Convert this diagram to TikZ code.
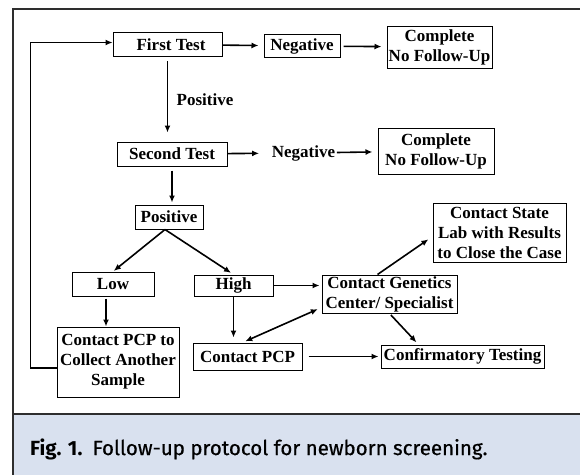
\documentclass[tikz,border=0pt]{standalone}
\usepackage{fontspec}
\setmainfont{Liberation Serif}
\newfontfamily\capfont{Fira Sans}
\newfontfamily\capmedfont{Fira Sans}[FakeBold=0.6]
\usepackage{xcolor}
\usetikzlibrary{calc, positioning, arrows.meta}

\definecolor{capblue}{HTML}{D9E1EF}
\definecolor{framegray}{HTML}{2E2E2E}

\begin{document}
\begin{tikzpicture}[x=1pt,y=-1pt,->,>={Latex[length=7pt,width=6pt]},
                    line width=1.6pt,
                    box node/.style={rectangle,draw,line width=1pt,inner sep=1pt,align=center,
                                     font=\fontsize{17}{20}\selectfont\bfseries},
                    text node/.style={inner sep=1pt,font=\fontsize{17}{20}\selectfont\bfseries},
                    gap/.style={shorten >=5pt}]

  \useasboundingbox (0,0) rectangle (580,474);
  \clip (0,0) rectangle (580,474);

  % frame and caption band
  \fill[capblue] (13,414) rectangle (590,484);
  \draw[-,framegray,line width=2.5pt] (13,490) -- (13,9) -- (590,9);
  \draw[-,framegray,line width=2pt] (13,414) -- (590,414);
  \node[anchor=west,font=\fontsize{20.5}{22}\selectfont] (cap) at (26,449)
    {{\capfont\bfseries Fig. 1.}\ \ {\capmedfont Follow-up protocol for newborn screening.}};

  % boxes
  \node[box node,minimum width=109pt,minimum height=24pt] (first) at (167.5,44.5) {\hspace*{7pt}First Test};
  \node[box node,minimum width=76pt,minimum height=23pt] (neg1) at (302,46) {Negative};
  \node[box node,minimum width=105pt,minimum height=42pt] (comp1) at (439.5,47) {Complete\\No Follow-Up};
  \node[box node,minimum width=110pt,minimum height=24pt] (second) at (172,154) {Second Test};
  \node[text node] (neg2) at (303.5,153) {Negative};
  \node[box node,minimum width=116pt,minimum height=46pt] (comp2) at (436,151) {Complete\\No Follow-Up};
  \node[text node] (poslabel) at (205,100) {Positive};
  \node[box node,minimum width=68pt,minimum height=24pt] (pos) at (169,217) {Positive};
  \node[box node,minimum width=82pt,minimum height=24pt] (low) at (113,284) {Low};
  \node[box node,minimum width=79pt,minimum height=21pt] (high) at (233.5,285.5) {High};
  \node[box node,minimum width=122pt,minimum height=70pt] (collect) at (118,362) {Contact PCP to\\Collect Another\\Sample};
  \node[box node,minimum width=109pt,minimum height=27pt] (pcp) at (247.5,356.5) {Contact PCP};
  \node[box node,minimum width=135pt,minimum height=38pt] (genetics) at (389.5,294) {Contact Genetics\\Center/ Specialist};
  \node[box node,minimum width=133pt,minimum height=59pt] (state) at (499.5,232.5) {Contact State\\Lab with Results\\to Close the Case};
  \node[box node,minimum width=163pt,minimum height=23pt] (confirm) at (462.5,356.5) {Confirmatory Testing};

  \path
    (first) edge[gap] (neg1)
    (neg1) edge[shorten <=3pt,gap] (comp1)
    (first.south) edge[shorten <=4pt,shorten >=9pt] (first.south |- second.north)
    (second) edge[shorten >=11pt] (neg2)
    (neg2) edge[gap] (comp2)
    (second.south) edge[shorten <=4pt,shorten >=2pt] (second.south |- pos.north)
    ([xshift=-4pt]pos.south) edge[shorten >=1pt] (low.north)
                             edge[shorten >=3pt] (high.north)
    ([xshift=-7pt]low.south) edge[shorten <=2pt] ([xshift=-7pt]low.south |- collect.north)
    (high.south) edge[gap] (high.south |- pcp.north)
    (high.east) edge[shorten >=2pt] (high.east -| genetics.west)
    ([xshift=-5pt]pcp.north) edge[<->,shorten <=3pt,shorten >=4pt] ([yshift=6pt]genetics.south west)
    ([xshift=-12pt]genetics.north) edge[gap] ([yshift=-4pt]state.west)
    (genetics.south) edge[shorten <=2pt,shorten >=3pt] ([xshift=-44pt]confirm.north)
    (pcp.east) edge[shorten <=6pt,shorten >=2pt] (confirm.west);

  % back to the first test
  \draw[line width=1.2pt] ([yshift=-6pt]collect.west) -- ++(-26,0) |- ([yshift=2pt]first.west);

\end{tikzpicture}
\end{document}
